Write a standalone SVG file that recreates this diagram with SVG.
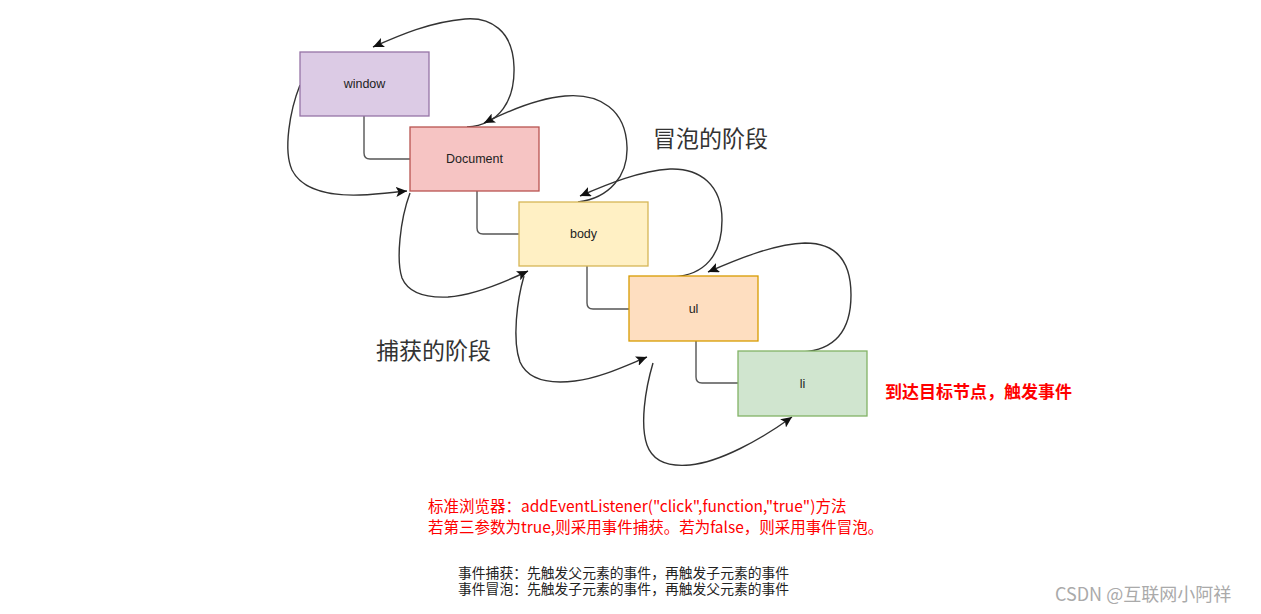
<svg xmlns="http://www.w3.org/2000/svg" width="1261" height="614" viewBox="0 0 1261 614">
<style>
.box{stroke-width:1.3}
.lbl{font-family:"Liberation Sans",Arial,sans-serif;font-size:12.5px;fill:#222;text-anchor:middle;dominant-baseline:central}
.tree{fill:none;stroke:#555;stroke-width:1.4}
.flow{fill:none;stroke:#333;stroke-width:1.4;marker-end:url(#ah)}
.cjk{font-family:"Noto Sans CJK SC","Noto Sans",sans-serif}
.phase{font-size:23px;fill:#333}
.red{fill:#ff0000}
.note{font-family:"Liberation Sans","Noto Sans CJK SC",sans-serif;font-size:13.8px;fill:#222}
</style>
<defs>
<marker id="ah" markerUnits="userSpaceOnUse" markerWidth="12" markerHeight="10" refX="11" refY="5" orient="auto">
<path d="M0,0 L11,5 L0,10 L2.5,5 Z" fill="#111"/>
</marker>
</defs>
<rect width="1261" height="614" fill="#fff"/>
<g id="connectors">
<path class="tree" d="M364,116 V153 Q364,159 370,159 H410"/>
<path class="tree" d="M477,191 V228 Q477,234 483,234 H519"/>
<path class="tree" d="M587,266 V303 Q587,309 593,309 H629"/>
<path class="tree" d="M696,341 V377 Q696,383 702,383 H738"/>
<path class="flow" d="M467,127 C500,125 515,100 514,67 C513,30 490,17 465,19 C430,22 400,35 373,47"/>
<path class="flow" d="M578,202 C610,198 628,175 627,147 C626,110 600,93 565,96 C540,98 510,110 484,123"/>
<path class="flow" d="M673,277 C705,275 722,255 722,220 C722,185 700,168 670,169 C640,171 610,183 580,196"/>
<path class="flow" d="M802,352 C835,350 851,330 851,295 C851,260 835,243 805,243 C775,244 740,258 708,272"/>
<path class="flow" d="M300,85 C290,110 283,150 292,170 C302,190 330,196 360,195 C380,194 395,192 407,191"/>
<path class="flow" d="M410,193 C400,220 396,260 402,278 C408,292 425,298 448,297 C475,295 505,282 528,271"/>
<path class="flow" d="M524,276 C517,300 512,340 520,362 C528,380 550,384 575,381 C600,378 625,366 647,357"/>
<path class="flow" d="M653,363 C645,390 640,425 647,445 C653,462 668,467 690,465 C720,462 760,440 792,417"/>
</g>
<g id="window"><rect class="box" x="300" y="52" width="129" height="64" fill="#dccbe5" stroke="#9673a6"/><text class="lbl" x="364.5" y="84">window</text></g>
<g id="document"><rect class="box" x="410" y="127" width="129" height="64" fill="#f6c4c3" stroke="#b85450"/><text class="lbl" x="474.5" y="159">Document</text></g>
<g id="body"><rect class="box" x="519" y="202" width="129" height="64" fill="#fff0c4" stroke="#d6b656"/><text class="lbl" x="583.5" y="234">body</text></g>
<g id="ul"><rect class="box" x="629" y="276" width="129" height="65" fill="#fedec0" stroke="#d79b00"/><text class="lbl" x="693.5" y="309">ul</text></g>
<g id="li"><rect class="box" x="738" y="351" width="129" height="65" fill="#d0e5cf" stroke="#82b366"/><text class="lbl" x="802.5" y="384">li</text></g>
<g id="labels">
<text class="cjk phase" x="653" y="147">冒泡的阶段</text>
<text class="cjk phase" x="376" y="359">捕获的阶段</text>
<text class="cjk red" x="885" y="398" font-size="17" font-weight="bold">到达目标节点，触发事件</text>
<text class="cjk red" x="428" y="512" font-size="15.5">标准浏览器：addEventListener("click",function,"true")方法</text>
<text class="cjk red" x="428" y="533" font-size="15.5">若第三参数为true,则采用事件捕获。若为false，则采用事件冒泡。</text>
<text class="note" x="458" y="578">事件捕获：先触发父元素的事件，再触发子元素的事件</text>
<text class="note" x="458" y="594">事件冒泡：先触发子元素的事件，再触发父元素的事件</text>
<text class="cjk" x="1055" y="601" font-size="18" fill="#aaa">CSDN @互联网小阿祥</text>
</g>
</svg>
